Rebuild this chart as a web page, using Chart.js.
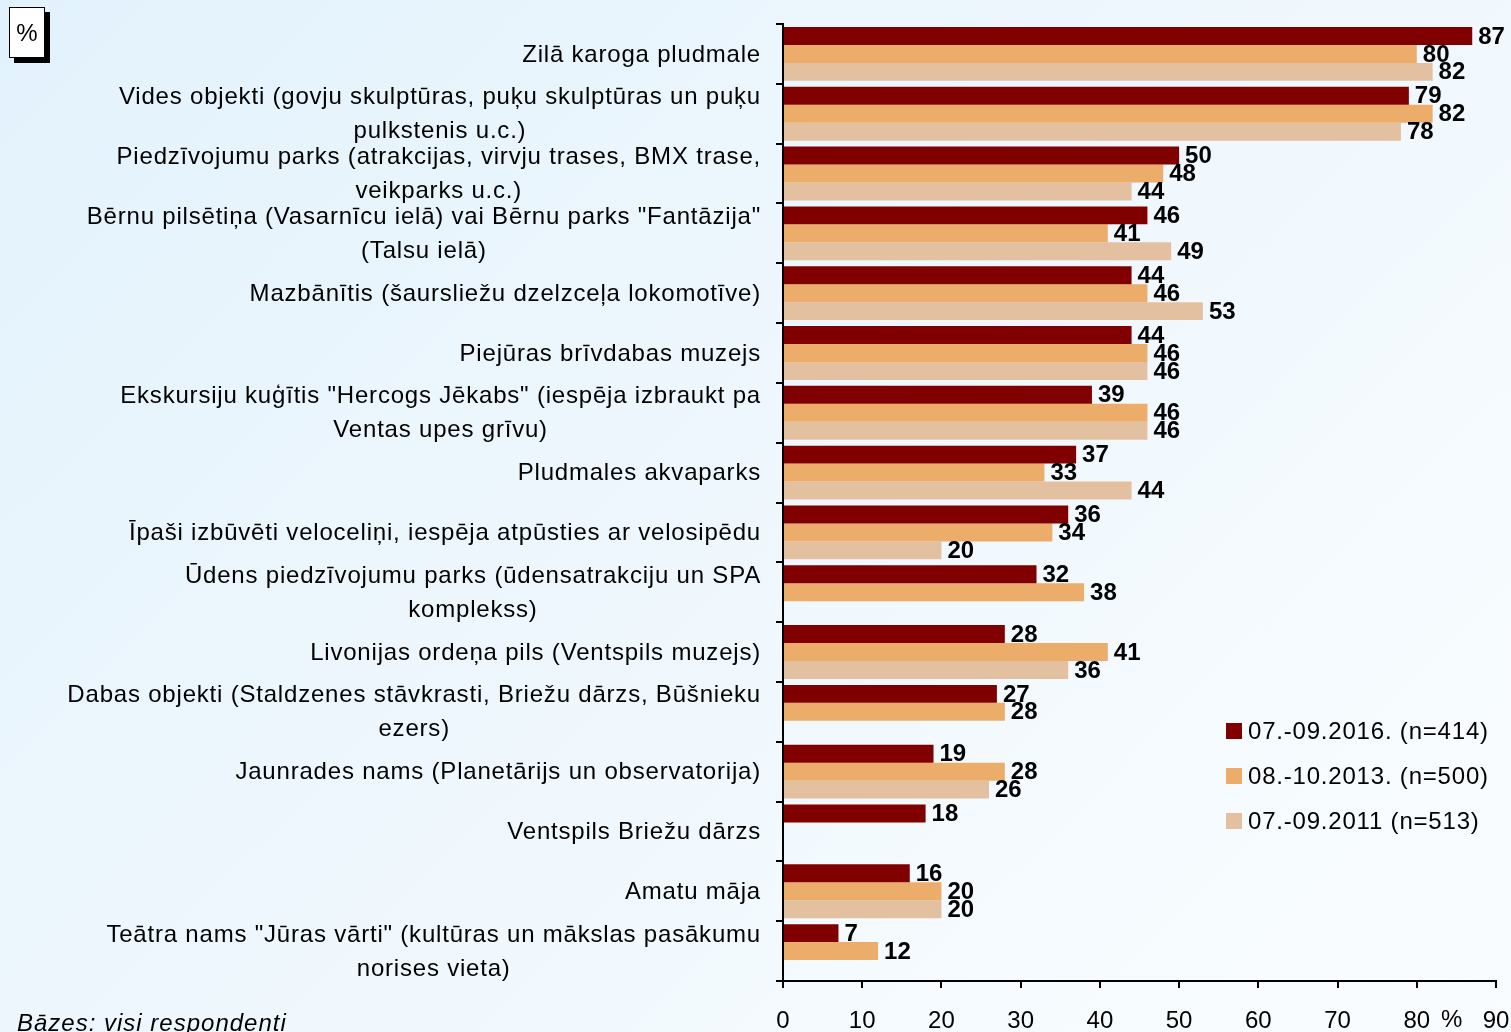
<!DOCTYPE html>
<html>
<head>
<meta charset="utf-8">
<script src="https://cdn.jsdelivr.net/npm/chart.js@4.4.1/dist/chart.umd.min.js"></script>
<style>
html,body{margin:0;padding:0;width:1511px;height:1032px;overflow:hidden;}
body{background:linear-gradient(135deg,#e2f2fc 0%,#eef7fd 45%,#fafdff 100%);font-family:"Liberation Sans",Arial,sans-serif;position:relative;}
#c{position:absolute;left:0;top:0;}
#pct{position:absolute;left:9px;top:7px;width:34px;height:49px;border:1px solid #000;background:#fff;box-shadow:5px 5px 0 #000;font-size:24px;line-height:49px;text-align:center;color:#000;}
#base{position:absolute;left:17px;top:1011px;font-style:italic;font-size:24px;line-height:24px;letter-spacing:1px;color:#000;white-space:nowrap;}
</style>
</head>
<body>
<canvas id="c" width="1511" height="1032"></canvas>
<div id="pct">%</div>
<div id="base">Bāzes: visi respondenti</div>
<script>
const categories = [
  ['Zilā karoga pludmale'],
  ['Vides objekti (govju skulptūras, puķu skulptūras un puķu', 'pulkstenis u.c.)'],
  ['Piedzīvojumu parks (atrakcijas, virvju trases, BMX trase,', 'veikparks u.c.)'],
  ['Bērnu pilsētiņa (Vasarnīcu ielā) vai Bērnu parks "Fantāzija"', '(Talsu ielā)'],
  ['Mazbānītis (šaursliežu dzelzceļa lokomotīve)'],
  ['Piejūras brīvdabas muzejs'],
  ['Ekskursiju kuģītis "Hercogs Jēkabs" (iespēja izbraukt pa', 'Ventas upes grīvu)'],
  ['Pludmales akvaparks'],
  ['Īpaši izbūvēti veloceliņi, iespēja atpūsties ar velosipēdu'],
  ['Ūdens piedzīvojumu parks (ūdensatrakciju un SPA', 'komplekss)'],
  ['Livonijas ordeņa pils (Ventspils muzejs)'],
  ['Dabas objekti (Staldzenes stāvkrasti, Briežu dārzs, Būšnieku', 'ezers)'],
  ['Jaunrades nams (Planetārijs un observatorija)'],
  ['Ventspils Briežu dārzs'],
  ['Amatu māja'],
  ['Teātra nams "Jūras vārti" (kultūras un mākslas pasākumu', 'norises vieta)']
];
const values2016 = [87, 79, 50, 46, 44, 44, 39, 37, 36, 32, 28, 27, 19, 18, 16, 7];
const values2013 = [80, 82, 48, 41, 46, 46, 46, 33, 34, 38, 41, 28, 28, null, 20, 12];
const values2011 = [82, 78, 44, 49, 53, 46, 46, 44, 20, null, 36, null, 26, null, 20, null];
const seriesNames = ['07.-09.2016. (n=414)', '08.-10.2013. (n=500)', '07.-09.2011 (n=513)'];
const seriesColors = ['#800000', '#ECAC6A', '#E3C0A0'];
const xTickValues = [0, 10, 20, 30, 40, 50, 60, 70, 80, 90];
const xUnit = '%';

const FONT = '"Liberation Sans", Arial, sans-serif';

const customDraw = {
  id: 'customDraw',
  afterDraw(chart) {
    const ctx = chart.ctx;
    const xs = chart.scales.x, ys = chart.scales.y;
    ctx.save();
    ctx.fillStyle = '#000';
    // category labels
    ctx.font = '24px ' + FONT;
    try { ctx.letterSpacing = '0.8px'; } catch (e) {}
    ctx.textBaseline = 'middle';
    ctx.textAlign = 'center';
    const rightX = 761, lh = 34;
    categories.forEach((lines, i) => {
      const cy = ys.getPixelForValue(i);
      const w = Math.max(...lines.map(l => ctx.measureText(l).width));
      const cx = rightX - w / 2;
      lines.forEach((l, k) => {
        ctx.fillText(l, cx, cy + (k - (lines.length - 1) / 2) * lh + 1);
      });
    });
    // legend
    const lx = 1226, rows = [731, 776, 821];
    ctx.textAlign = 'left';
    seriesNames.forEach((n, i) => {
      ctx.fillStyle = seriesColors[i];
      ctx.fillRect(lx, rows[i] - 8, 16, 16);
      ctx.fillStyle = '#000';
      ctx.fillText(n, lx + 22, rows[i] + 1);
    });
    try { ctx.letterSpacing = '0px'; } catch (e) {}
    // value labels
    ctx.font = 'bold 24px ' + FONT;
    ctx.textAlign = 'left';
    chart.data.datasets.forEach((ds, di) => {
      const meta = chart.getDatasetMeta(di);
      meta.data.forEach((bar, j) => {
        const v = ds.data[j];
        if (v === null || v === undefined) return;
        ctx.fillText(String(v), bar.x + 6, bar.y + 1);
      });
    });
    // unit after 80
    ctx.font = '24px ' + FONT;
    ctx.textAlign = 'center';
    ctx.fillText(xUnit, xs.getPixelForValue(80) + 35, 1020);
    ctx.restore();
  }
};

const datasets = [values2016, values2013, values2011].map((d, i) => ({
  label: seriesNames[i],
  data: d,
  backgroundColor: seriesColors[i],
  borderWidth: 0,
  categoryPercentage: 0.9,
  barPercentage: 1
}));

new Chart(document.getElementById('c'), {
  type: 'bar',
  data: { labels: categories.map(c => c.join(' ')), datasets },
  options: {
    indexAxis: 'y',
    responsive: false,
    animation: false,
    devicePixelRatio: 1,
    layout: { padding: { left: 0, right: 15, top: 24, bottom: 0 } },
    plugins: { legend: { display: false }, tooltip: { enabled: false } },
    scales: {
      x: {
        type: 'linear',
        min: 0, max: 90,
        afterBuildTicks(s) { s.ticks = xTickValues.map(v => ({ value: v })); },
        ticks: { color: '#000', font: { size: 24, family: FONT }, padding: 19, maxRotation: 0, autoSkip: false },
        grid: { drawOnChartArea: false, drawTicks: true, tickLength: 7, color: '#000', lineWidth: 2 },
        border: { color: '#000', width: 2 },
        afterFit(s) { s.height = 51; s.paddingRight = 0; s.paddingLeft = 0; }
      },
      y: {
        ticks: { display: false },
        grid: { drawOnChartArea: false, drawTicks: true, tickLength: 7, color: '#000', lineWidth: 2, offset: true },
        border: { color: '#000', width: 2 },
        afterFit(s) { s.width = 783; s.paddingTop = 0; s.paddingBottom = 0; }
      }
    }
  },
  plugins: [customDraw]
});
</script>
</body>
</html>
